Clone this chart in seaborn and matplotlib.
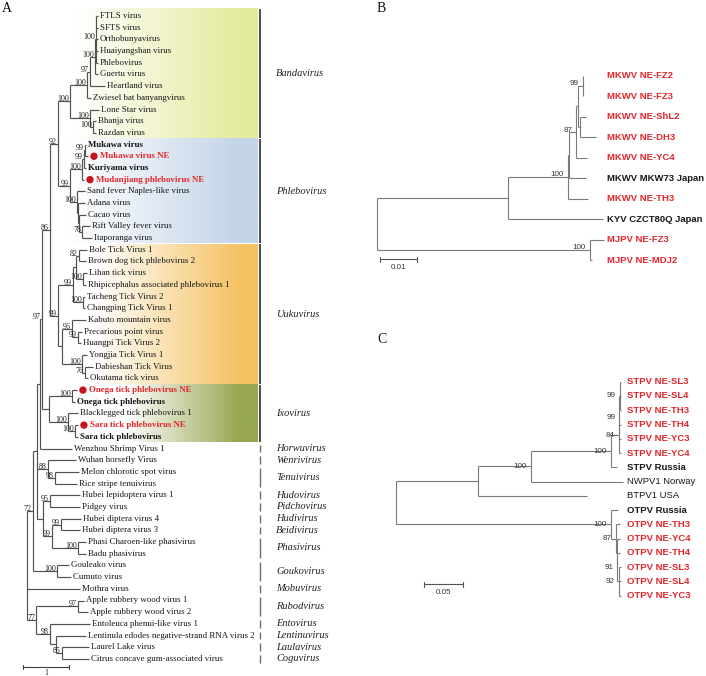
import matplotlib
matplotlib.use("Agg")
import matplotlib.pyplot as plt
import numpy as np
import seaborn as sns

sns.set_theme(style="white")
plt.rcParams["font.family"] = ["Liberation Serif", "DejaVu Serif"]

# ---- data: trees as small Newick pieces (branch lengths, bootstrap support) ----
BAND = ("((((('FTLS virus':0.043,'SFTS virus':0.043,'Orthobunyavirus':0.043,"
        "'Huaiyangshan virus':0.043,'Phlebovirus':0.043)100:0.022,"
        "'Guertu virus':0.065)100:0.109,'Heartland virus':0.326)97:0.065,"
        "'Zwiesel bat banyangvirus':0.087)100:0.370,"
        "('Lone Star virus':0.196,('Bhanja virus':0.065,'Razdan virus':0.065)100:0.065)100:0.435)100:0.261")
PHLEBO = ("(((('Mukawa virus':0.022,'Mukawa virus NE':0.065)99:0.022,'Kuriyama virus':0.043)99:0.043,"
          "'Mudanjiang phlebovirus NE':0.043)100:0.261,"
          "('Sand fever Naples-like virus':0.174,('Adana virus':0.152,('Cacao virus':0.152,"
          "('Rift Valley fever virus':0.174,'Itaporanga virus':0.217)78:0.065):0.022):0.022)100:0.152)99:0.261")
UUKU = ("(((('Bole Tick Virus 1':0.174,'Brown dog tick phlebovirus 2':0.152)82:0.065,"
        "('Lihan tick virus':0.087,'Rhipicephalus associated phlebovirus 1':0.065)100:0.152):0.065,"
        "('Tacheng Tick Virus 2':0.043,'Changping Tick Virus 1':0.043)100:0.217)99:0.326,"
        "(('Kabuto mountain virus':0.304,('Precarious point virus':0.087,'Huangpi Tick Virus 2':0.065)99:0.130)96:0.217,"
        "('Yongjia Tick Virus 1':0.109,('Dabieshan Tick Virus':0.174,'Okutama tick virus':0.065)76:0.065)100:0.435):0.087)99:0.174")
IXO = ("(('Onega tick phlebovirus NE':0.109,'Onega tick phlebovirus':0.065)100:0.500,"
       "('Blacklegged tick phlebovirus 1':0.217,('Sara tick phlebovirus NE':0.065,'Sara tick phlebovirus':0.065)100:0.152)100:0.413):0.152")
TENUI = "('Wuhan horsefly Virus':0.609,('Melon chlorotic spot virus':0.522,'Rice stripe tenuivirus':0.478)98:0.152)88:0.239"
HUBEI = ("(('Hubei lepidoptera virus 1':0.652,'Pidgey virus':0.652)95:0.152,"
         "(('Hubei diptera virus 4':0.435,'Hubei diptera virus 3':0.413)99:0.196,"
         "('Phasi Charoen-like phasivirus':0.174,'Badu phasivirus':0.174)100:0.565)99:0.196):0.130")
GOUK = "('Gouleako virus':0.261,'Cumuto virus':0.304)100:0.522"
OUTER = ("(('Apple rubbery wood virus 1':0.130,'Apple rubbery wood virus 2':0.217)97:0.913,"
         "('Entoleuca phenui-like virus 1':0.870,('Lentinula edodes negative-strand RNA virus 2':0.652,"
         "('Laurel Lake virus':0.587,'Citrus concave gum-associated virus':0.587)85:0.130):0.130)98:0.304)77:0.196")

N86 = "((" + BAND + "," + PHLEBO + ")92:0.174," + UUKU + ")86:0.174"
N97 = "(" + N86 + "," + IXO + ")97:0.043"
WENZ = "(" + N97 + ",'Wenzhou Shrimp Virus 1':0.696):0.065"
TREE_A = "(((" + WENZ + "," + TENUI + "," + HUBEI + "):0.087," + GOUK + ")72:0.130,'Mothra virus':1.152," + OUTER + ");"

TREE_B = ("((((((('MKWV NE-FZ2':0.0001,'MKWV NE-FZ3':0.0001)99:0.0014,"
          "('MKWV NE-ShL2':0.0016,'MKWV NE-DH3':0.0045):0.0005):0.0005,'MKWV NE-YC4':0.0029)87:0.0019,"
          "'MKWV MKW73 Japan':0.0046):0.0003,'MKWV NE-TH3':0.0054)100:0.0162,"
          "'KYV CZCT80Q Japan':0.0256):0.0354,('MJPV NE-FZ3':0.0038,'MJPV NE-MDJ2':0.0005)100:0.0576);")

TREE_C = ("((((((('STPV NE-SL3':0.0013,'STPV NE-SL4':0.0013,'STPV NE-TH3':0.0013)99:0.0006,"
          "'STPV NE-TH4':0.0019,'STPV NE-YC3':0.0019)99:0.0006,'STPV NE-YC4':0.0026)84:0.0103,"
          "'STPV Russia':0.0073)100:0.1029,'NWPV1 Norway':0.1183)100:0.0672,'BTPV1 USA':0.1390):0.1055,"
          "('OTPV Russia':0.0094,('OTPV NE-TH3':0.0051,('OTPV NE-YC4':0.0038,('OTPV NE-TH4':0.0032,"
          "('OTPV NE-SL3':0.0026,'OTPV NE-SL4':0.0026,'OTPV NE-YC3':0.0026)92:0.0019)91:0.0006):0.0013)87:0.0064)100:0.2756);")

BOLD_A = ["Mukawa virus", "Kuriyama virus", "Onega tick phlebovirus", "Sara tick phlebovirus"]
BOLD_B = ["MKWV NE-FZ2", "MKWV NE-FZ3", "MKWV NE-ShL2", "MKWV NE-DH3", "MKWV NE-YC4",
          "MKWV MKW73 Japan", "MKWV NE-TH3", "KYV CZCT80Q Japan", "MJPV NE-FZ3", "MJPV NE-MDJ2"]
BOLD_C = ["STPV NE-SL3", "STPV NE-SL4", "STPV NE-TH3", "STPV NE-TH4", "STPV NE-YC3", "STPV NE-YC4",
          "STPV Russia", "OTPV Russia", "OTPV NE-TH3", "OTPV NE-YC4", "OTPV NE-TH4",
          "OTPV NE-SL3", "OTPV NE-SL4", "OTPV NE-YC3"]

GENUS_NAMES = ["Bandavirus", "Phlebovirus", "Uukuvirus", "Ixovirus", "Horwuvirus", "Wenrivirus",
               "Tenuivirus", "Hudovirus", "Pidchovirus", "Hudivirus", "Beidivirus", "Phasivirus",
               "Goukovirus", "Mobuvirus", "Rubodvirus", "Entovirus", "Lentinuvirus", "Laulavirus", "Coguvirus"]
GENUS_FIRST = ["FTLS virus", "Mukawa virus", "Bole Tick Virus 1", "Onega tick phlebovirus NE",
               "Wenzhou Shrimp Virus 1", "Wuhan horsefly Virus", "Melon chlorotic spot virus",
               "Hubei lepidoptera virus 1", "Pidgey virus", "Hubei diptera virus 4", "Hubei diptera virus 3",
               "Phasi Charoen-like phasivirus", "Gouleako virus", "Mothra virus", "Apple rubbery wood virus 1",
               "Entoleuca phenui-like virus 1", "Lentinula edodes negative-strand RNA virus 2",
               "Laurel Lake virus", "Citrus concave gum-associated virus"]
GENUS_LAST = ["Razdan virus", "Itaporanga virus", "Okutama tick virus", "Sara tick phlebovirus",
              "Wenzhou Shrimp Virus 1", "Wuhan horsefly Virus", "Rice stripe tenuivirus",
              "Hubei lepidoptera virus 1", "Pidgey virus", "Hubei diptera virus 4", "Hubei diptera virus 3",
              "Badu phasivirus", "Cumuto virus", "Mothra virus", "Apple rubbery wood virus 2",
              "Entoleuca phenui-like virus 1", "Lentinula edodes negative-strand RNA virus 2",
              "Laurel Lake virus", "Citrus concave gum-associated virus"]
BOX_COLORS = ["#e4ea9c", "#c3d4e8", "#f4c262", "#97a752"]

W, H = 706, 676
RED = "#e3262b"


def parse_newick(s):
    pos = 0

    def node():
        nonlocal pos
        n = {"children": [], "name": "", "support": "", "length": 0.0}
        if s[pos] == "(":
            pos += 1
            while True:
                n["children"].append(node())
                ch = s[pos]
                pos += 1
                if ch == ")":
                    break
        if s[pos] == "'":
            end = s.index("'", pos + 1)
            n["name"] = s[pos + 1:end]
            pos = end + 1
        else:
            start = pos
            while s[pos] not in ":,);":
                pos += 1
            n["support"] = s[start:pos]
        if s[pos] == ":":
            pos += 1
            start = pos
            while s[pos] not in ",);":
                pos += 1
            n["length"] = float(s[start:pos])
        return n

    return node()


def layout(n, depth, leaves):
    n["x"] = depth + n["length"]
    if not n["children"]:
        n["y"] = len(leaves)
        leaves.append(n)
    else:
        for c in n["children"]:
            layout(c, n["x"], leaves)
        n["y"] = (n["children"][0]["y"] + n["children"][-1]["y"]) / 2
    return leaves


def internal(n):
    if n["children"]:
        yield n
        for c in n["children"]:
            yield from internal(c)


def draw_tree(ax, n, color, lw):
    kids = n["children"]
    if not kids:
        return
    ax.plot([n["x"], n["x"]], [kids[0]["y"], kids[-1]["y"]], color=color, lw=lw, solid_capstyle="butt")
    for c in kids:
        ax.plot([n["x"], c["x"]], [c["y"], c["y"]], color=color, lw=lw, solid_capstyle="butt")
        draw_tree(ax, c, color, lw)


def panel(fig, left, top, width, height, x0, ppu, y0, ppl):
    ax = fig.add_axes([left / W, 1 - (top + height) / H, width / W, height / H])
    ax.set_xlim((left - x0) / ppu, (left + width - x0) / ppu)
    ax.set_ylim((top + height - y0) / ppl, (top - y0) / ppl)
    ax.set_autoscale_on(False)
    ax.axis("off")
    return ax


fig = plt.figure(figsize=(W / 100, H / 100), dpi=100)
fig.patch.set_facecolor("white")

# ---------------- Panel A ----------------
ppu_a, ppl_a = 46.0, 11.69
axA = panel(fig, 0, 0, 365, H, 27, ppu_a, 16, ppl_a)
rootA = parse_newick(TREE_A)
leavesA = layout(rootA, 0.0, [])
idxA = {lf["name"]: lf["y"] for lf in leavesA}

# coloured clade boxes with white-to-colour gradient
white_end_px = [75, 70, 95, 125]
for i, col in enumerate(BOX_COLORS):
    y0 = idxA[GENUS_FIRST[i]] - (0.6 if i == 0 else 0.46)
    y1 = idxA[GENUS_LAST[i]] + 0.46
    xl, xr = (62 - 27) / ppu_a, (258 - 27) / ppu_a
    xs = np.linspace(xl, xr, 400)
    t = np.clip((xs - (white_end_px[i] - 27) / ppu_a) / ((240 - white_end_px[i]) / ppu_a), 0, 1)
    rgb = np.array(matplotlib.colors.to_rgb(col))
    img = (1 - t)[:, None] * np.ones(3) + t[:, None] * rgb
    axA.imshow(img[None, :, :], extent=[xl, xr, y1, y0], aspect="auto", interpolation="bilinear", zorder=0)

draw_tree(axA, rootA, "#505050", 0.85)

for n in internal(rootA):
    if n["support"]:
        axA.text(n["x"] - 1 / ppu_a, n["y"] + 2.0 / ppl_a, n["support"], ha="right", va="bottom",
                 fontsize=5.8, color="#222222")

dot_x, dot_y = [], []
for lf in leavesA:
    name = lf["name"]
    red = " NE" in name
    off = 12 if red else 2
    if red:
        dot_x.append(lf["x"] + 6 / ppu_a)
        dot_y.append(lf["y"])
    axA.text(lf["x"] + off / ppu_a, lf["y"], name, ha="left", va="center", fontsize=6.4,
             color=RED if red else "#151515",
             fontweight="bold" if (red or name in BOLD_A) else "normal")
sns.scatterplot(x=dot_x, y=dot_y, ax=axA, color="#c4141c", s=28, edgecolor="none", legend=False, zorder=5)

bar_x = (260 - 27) / ppu_a
for i, g in enumerate(GENUS_NAMES):
    a, b = idxA[GENUS_FIRST[i]], idxA[GENUS_LAST[i]]
    if i < 4:
        top = a - (0.6 if i == 0 else 0.46)
        axA.plot([bar_x, bar_x], [top, b + 0.46], color="#3c3c3c", lw=1.3, solid_capstyle="butt")
        yc = (top + b + 0.46) / 2
    else:
        axA.plot([bar_x, bar_x], [a - 0.33, b + 0.33], color="#707070", lw=1.0, solid_capstyle="butt")
        yc = (a + b) / 2
    axA.text((276 - 27) / ppu_a, yc, g, ha="left", va="center", fontsize=7.5, style="italic", color="#202020")

# scale bar A
sy = (666.7 - 16) / ppl_a
sx0 = -4 / ppu_a
axA.plot([sx0, sx0 + 1.0], [sy, sy], color="#404040", lw=0.8)
for xx in (sx0, sx0 + 1.0):
    axA.plot([xx, xx], [sy - 0.18, sy + 0.18], color="#404040", lw=0.8)
axA.text(sx0 + 0.5, (673 - 16) / ppl_a, "1", ha="center", va="center", fontsize=5.8)


# ---------------- Panels B and C ----------------
def small_tree(ax, tree, bold, ppu, ppl, label_gap, scale_len, scale_label, scale_xpx, scale_ypx, x0, y0,
               sup_va):
    root = parse_newick(tree)
    leaves = layout(root, 0.0, [])
    draw_tree(ax, root, "#7a7a7a", 0.8)
    for n in internal(root):
        if n["support"]:
            ax.text(n["x"] - 4 / ppu, n["y"] + (1.5 / ppl if sup_va == "bottom" else 0), n["support"],
                    ha="right", va=sup_va, fontsize=5.8, color="#333333", family="Liberation Sans")
    lx = max(lf["x"] for lf in leaves) + label_gap / ppu
    for lf in leaves:
        name = lf["name"]
        ax.text(lx, lf["y"], name, ha="left", va="center", fontsize=6.8, family="Liberation Sans",
                color=RED if " NE-" in name else "#1a1a1a",
                fontweight="bold" if name in bold else "normal")
    sx = (scale_xpx - x0) / ppu
    syy = (scale_ypx - y0) / ppl
    ax.plot([sx, sx + scale_len], [syy, syy], color="#555555", lw=0.8)
    for xx in (sx, sx + scale_len):
        ax.plot([xx, xx], [syy - 2.5 / ppl, syy + 2.5 / ppl], color="#555555", lw=0.8)
    ax.text(sx + scale_len / 2, syy + 8 / ppl, scale_label, ha="center", va="center", fontsize=5.8,
            family="Liberation Sans", color="#333333")


axB = panel(fig, 365, 0, 341, 300, 377, 3700.0, 75.7, 20.5)
small_tree(axB, TREE_B, BOLD_B, 3700.0, 20.5, 3, 0.01, "0.01", 380, 259.3, 377, 75.7, "bottom")

axC = panel(fig, 365, 300, 341, 376, 396, 780.0, 381.7, 14.27)
small_tree(axC, TREE_C, BOLD_C, 780.0, 14.27, 3.7, 0.05, "0.05", 424.3, 584.3, 396, 381.7, "center")

for lab, xp, yp in [("A", 2, 2), ("B", 377, 2), ("C", 377, 333)]:
    fig.text(xp / W, 1 - yp / H, lab, ha="left", va="top", fontsize=10, color="#111111")

fig.savefig("out.png", dpi=100, facecolor="white")
